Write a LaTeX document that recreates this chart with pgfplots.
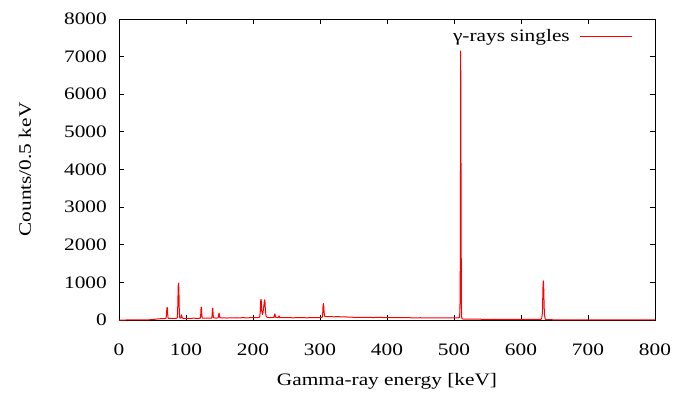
\documentclass[border=0pt]{standalone}
\usepackage{fontspec}
\setmainfont{Liberation Serif}[FakeStretch=1.22]
\usepackage{pgfplots}
\pgfplotsset{compat=1.18}
\begin{document}
\fontsize{17.5bp}{21bp}\selectfont
\begin{tikzpicture}
\useasboundingbox (-119bp,-78bp) rectangle (572bp,320bp);
\begin{axis}[
  at={(0,0)}, anchor=south west,
  scale only axis, width=536bp, height=301bp,
  xmin=0, xmax=800, ymin=0, ymax=8000,
  xtick={0,100,...,800}, ytick={0,1000,...,8000},
  tick align=inside, tick pos=both,
  major tick length=5bp,
  axis line style={line width=0.9bp, black},
  every tick/.style={black, line width=0.8bp},
  /pgf/number format/assume math mode=true,
  /pgf/number format/set thousands separator={},
  tick label style={font=\fontsize{17.5bp}{21bp}\selectfont},
  xticklabel style={anchor=center, yshift=-30bp},
  yticklabel style={anchor=east, inner sep=0pt, xshift=-12bp},
  xlabel={Gamma-ray energy [keV]},
  ylabel={Counts/0.5 keV},
  label style={font=\fontsize{17.5bp}{21bp}\selectfont},
  xlabel style={at={(axis description cs:0.5,-0.205)}, anchor=center},
  ylabel style={at={(axis description cs:-0.1754,0.5)}, anchor=center},
  clip=false,
]
\addplot[red, line width=1bp, line join=round] coordinates {
(0,0) (10,0) (20,1) (30,2) (40,3) (45,6) (50,12) (55,22) (58,28) (60,32) (63,35) (66,38) (69,40)
(70,42) (70.5,80) (71,180) (71.5,320) (72,330) (72.5,200) (73,80) (73.5,45) (75,42) (78,44) (81,40)
(84,45) (86,46) (87,60) (87.5,200) (88,600) (88.5,960) (89,980) (89.5,700) (90,250) (90.5,80) (91,50)
(92.5,60) (93,110) (93.5,135) (94,80) (94.5,50) (97,44) (100,46) (104,42) (108,45) (112,48) (116,44)
(120,46) (121.5,50) (122,150) (122.5,330) (123,345) (123.5,180) (124,70) (124.5,50) (128,48) (132,47)
(136,50) (138.5,52) (139,130) (139.5,300) (140,315) (140.5,150) (141,60) (142,55) (145,52) (148,55)
(148.5,90) (149,170) (149.5,180) (150,110) (150.5,60) (153,54) (157,56) (161,52) (165,58) (170,55)
(175,60) (180,56) (185,62) (190,58) (195,60) (200,62) (205,60) (208,65) (210,80) (211,250) (211.5,500)
(212,550) (212.5,480) (213,250) (214,150) (215,200) (216,350) (217,510) (217.5,535) (218,450)
(218.5,250) (219.5,100) (221,70) (225,65) (229,66) (231.5,70) (232,120) (232.5,160) (233,150)
(233.5,90) (234,70) (236,66) (238,72) (238.5,100) (239,108) (239.5,80) (240,66) (244,62) (248,65)
(252,60) (256,63) (260,58) (265,62) (270,60) (275,63) (280,58) (285,62) (290,60) (295,63) (300,64)
(302,66) (303.5,80) (304,150) (304.5,350) (305,440) (305.5,400) (306,250) (306.5,140) (307,100)
(308,90) (312,88) (316,90) (320,85) (325,88) (330,86) (335,84) (340,80) (345,76) (350,72) (360,70)
(370,68) (380,66) (390,68) (400,64) (410,62) (420,60) (430,62) (440,58) (450,60) (460,56) (470,58)
(480,55) (490,56) (500,54) (505,56) (507,58) (508,70) (508.5,100) (509,450) (509.5,1730) (510,7150)
(510.5,3850) (511,450) (511.5,80) (512,30) (515,22) (520,20) (530,22) (540,20) (550,18) (560,20)
(570,18) (580,17) (590,18) (600,16) (610,17) (620,15) (628,16) (630,20) (631,50) (632,200)
(632.5,600) (633,1000) (633.5,1040) (634,800) (634.5,400) (635,150) (636,40) (637,15) (640,8)
(650,6) (660,6) (680,5) (700,5) (720,4) (740,4) (760,4) (780,3) (800,3)
};
% legend key sample (gnuplot style: key text, then line sample)
\addplot[red, line width=1bp, forget plot] coordinates {(688,7522) (766,7522)};
\node[anchor=east, inner sep=0pt, font=\fontsize{17.5bp}{21bp}\selectfont]
  at (rel axis cs:0.8414,0.940) {γ-rays singles};
\end{axis}
\end{tikzpicture}
\end{document}
